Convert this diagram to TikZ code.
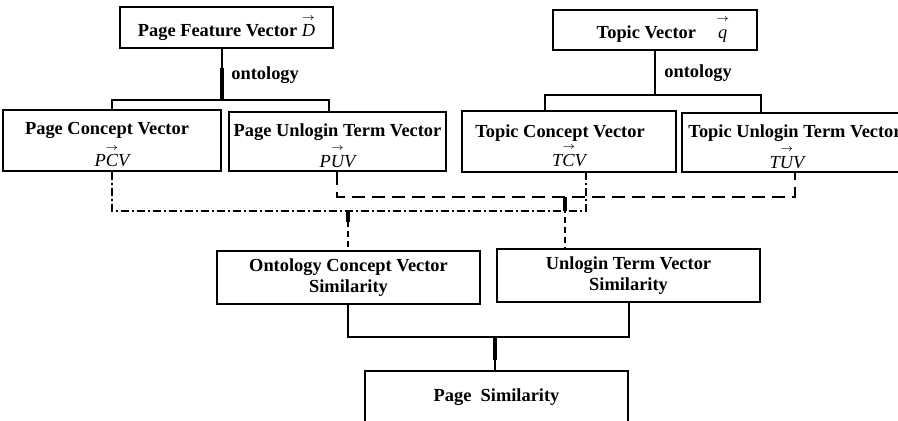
\documentclass[tikz,border=0pt]{standalone}
\usepackage{fontspec}
\setmainfont{Liberation Serif}
% italic vector name with a small arrow set above it (arrow takes no height)
\newcommand\vecarr[1]{\setbox0\hbox{\normalfont\itshape #1}%
  \rlap{\hbox to \wd0{\hss\raisebox{8.3pt}[0pt][0pt]{$\scriptscriptstyle\rightarrow$}\hss}}\box0}
\begin{document}
\begin{tikzpicture}[x=0.5pt,y=-0.5pt,
  box/.style={draw,line width=0.65pt,inner sep=0pt,align=center,
    font=\fontsize{9.2}{10.5}\selectfont\bfseries},
  dims/.style 2 args={minimum width=#1*0.5pt,minimum height=#2*0.5pt},
  lbl/.style={inner sep=0pt,font=\fontsize{9.2}{10.5}\selectfont\bfseries},
  conn/.style={line width=0.9pt},
  stem/.style={line width=1.6pt},
  dashline/.style={line width=0.8pt,dash pattern=on 6.5pt off 3.5pt},
  dotdash/.style={line width=0.8pt,dash pattern=on 4pt off 1.5pt on 1pt off 1.5pt},
  shortdash/.style={line width=0.8pt,dash pattern=on 3pt off 2pt}]
\useasboundingbox (0,0) rectangle (898,421);
\clip (0,0) rectangle (898,421);

% boxes
\node[box,dims={213}{41}] (pfv) at (226.5,27.5) {\rule{0pt}{11.5pt}Page Feature Vector \vecarr{D}};
\node[box,dims={204}{40}] (tv) at (655,30) {\rule{0pt}{10pt}\hspace*{7pt}Topic Vector\hspace{1.2em}\vecarr{q}};
\node[box,dims={218}{61}] (pcv) at (112,140.5) {\rule{0pt}{10.5pt}Page Concept Vector\hspace*{5pt}\\[5.5pt] \vecarr{PCV}};
\node[box,dims={217}{59}] (puv) at (337.5,141.5) {\rule{0pt}{10.5pt}Page Unlogin Term Vector\\[5pt] \vecarr{PUV}};
\node[box,dims={214}{61}] (tcv) at (569,141.5) {\rule{0pt}{10.5pt}Topic Concept Vector\hspace*{9pt}\\[4pt] \vecarr{TCV}};
\node[box,dims={226}{59}] (tuv) at (795,142.5) {\rule{0pt}{10.5pt}Topic Unlogin Term Vector\\[5pt] \vecarr{TUV}\hspace*{8pt}};
\node[box,dims={263}{53}] (ocs) at (348.5,277.5) {Ontology Concept Vector\\Similarity};
\node[box,dims={263}{53}] (uts) at (628.5,275.5) {Unlogin Term Vector\\Similarity};
\node[box,dims={263}{53}] (ps) at (496.5,397.5) {Page\ \ Similarity};

% edge labels
\node[lbl,anchor=west] (on1) at (231,75) {ontology};
\node[lbl,anchor=west] (on2) at (664,73) {ontology};

% ontology trees
\coordinate (j1) at (222,100);
\coordinate (a1) at (112,100);
\coordinate (a2) at (329,100);
\draw[conn] (j1 |- pfv.south) -- (j1);
\draw[stem] (222,68) -- (j1);
\draw[conn] (a1 |- pcv.north) -- (a1) -- (a2) -- (a2 |- puv.north);

\coordinate (j2) at (655,95);
\coordinate (b1) at (545,95);
\coordinate (b2) at (761,95);
\draw[conn] (tv.south) -- (j2);
\draw[conn] (b1 |- tcv.north) -- (b1) -- (b2) -- (b2 |- tuv.north);

% concept vectors merge (dash-dot)
\coordinate (c1) at (112,211);
\coordinate (c2) at (586,211);
\draw[dotdash] (pcv.south) -- (c1) -- (c2) -- (c2 |- tcv.south);

% unlogin term vectors merge (dashed)
\coordinate (d1) at (337,197);
\coordinate (d2) at (795,197);
\draw[dashline] (d1 |- puv.south) -- (d1) -- (d2) -- (d2 |- tuv.south);

% feeds into the similarity boxes
\coordinate (f1) at (348,211);
\coordinate (f2) at (565,197);
\draw[shortdash] (f1) -- (f1 |- ocs.north);
\draw[stem] (f1) -- (348,222);
\draw[shortdash] (f2) -- (f2 |- uts.north);
\draw[stem] (f2) -- (565,211);

% combination into page similarity
\coordinate (e1) at (348,337);
\coordinate (e2) at (629,337);
\coordinate (e3) at (495,337);
\draw[conn] (e1 |- ocs.south) -- (e1) -- (e2) -- (e2 |- uts.south);
\draw[conn] (e3) -- (e3 |- ps.north);
\draw[stem] (e3) -- (495,360);
\end{tikzpicture}
\end{document}
